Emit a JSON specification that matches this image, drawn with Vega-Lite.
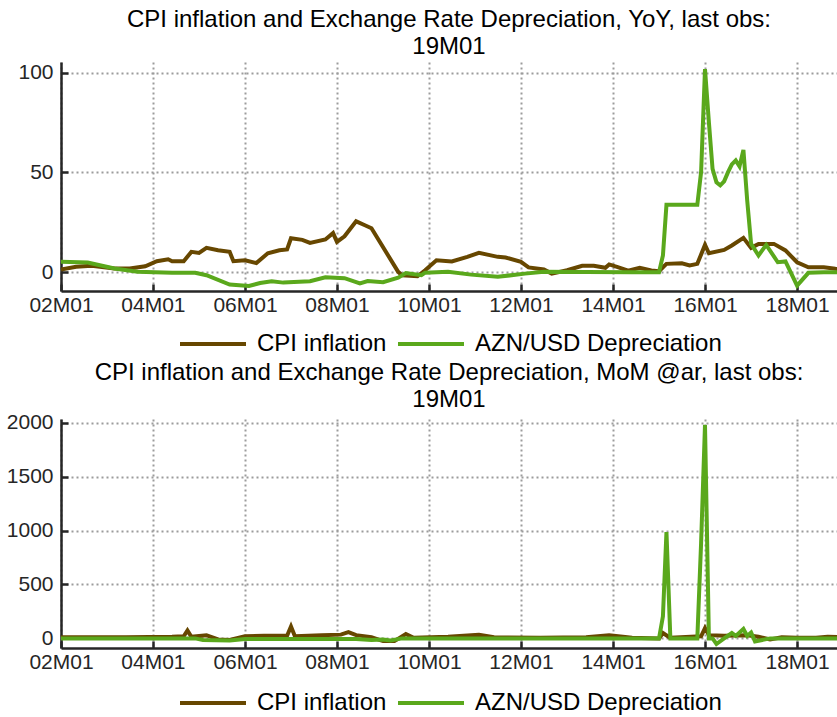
{
  "$schema": "https://vega.github.io/schema/vega-lite/v6.json",
  "background": "white",
  "padding": {"left": 6, "top": 7, "right": 0, "bottom": 0},
  "config": {
    "font": "Liberation Sans",
    "view": {"stroke": null},
    "axis": {
      "labelFont": "Liberation Sans", "labelFontSize": 21, "labelColor": "#262626",
      "domainColor": "#262626", "domainWidth": 2.5,
      "tickColor": "#262626", "tickWidth": 2.5, "tickSize": -7,
      "gridColor": "#9c9c9c", "gridDash": [2, 3], "gridWidth": 2,
      "labelFlush": false, "labelOverlap": false
    },
    "title": {"font": "Liberation Sans", "fontSize": 24, "fontWeight": "normal", "color": "#000000", "lineHeight": 27, "offset": 3, "anchor": "middle"},
    "legend": {"labelFont": "Liberation Sans", "labelFontSize": 24, "labelColor": "#000000", "labelLimit": 0, "symbolType": "stroke", "symbolSize": 4356, "symbolStrokeWidth": 4, "labelOffset": 9, "columnPadding": 9, "clipHeight": 26, "orient": "none", "direction": "horizontal", "title": null},
    "concat": {"spacing": 3}
  },
  "datasets": {
    "yoy": [
      {"d": "2002-01", "s": "CPI inflation", "v": 1.4},
      {"d": "2002-05", "s": "CPI inflation", "v": 2.7},
      {"d": "2002-09", "s": "CPI inflation", "v": 3.2},
      {"d": "2003-03", "s": "CPI inflation", "v": 1.9},
      {"d": "2003-07", "s": "CPI inflation", "v": 1.9},
      {"d": "2003-11", "s": "CPI inflation", "v": 3.0},
      {"d": "2004-02", "s": "CPI inflation", "v": 5.5},
      {"d": "2004-05", "s": "CPI inflation", "v": 6.5},
      {"d": "2004-06", "s": "CPI inflation", "v": 5.5},
      {"d": "2004-09", "s": "CPI inflation", "v": 5.5},
      {"d": "2004-11", "s": "CPI inflation", "v": 10.2},
      {"d": "2005-01", "s": "CPI inflation", "v": 9.7},
      {"d": "2005-03", "s": "CPI inflation", "v": 12.2},
      {"d": "2005-06", "s": "CPI inflation", "v": 11.0},
      {"d": "2005-09", "s": "CPI inflation", "v": 10.2},
      {"d": "2005-10", "s": "CPI inflation", "v": 5.5},
      {"d": "2006-01", "s": "CPI inflation", "v": 6.0},
      {"d": "2006-04", "s": "CPI inflation", "v": 4.6},
      {"d": "2006-07", "s": "CPI inflation", "v": 9.5},
      {"d": "2006-10", "s": "CPI inflation", "v": 11.0},
      {"d": "2006-12", "s": "CPI inflation", "v": 11.4},
      {"d": "2007-01", "s": "CPI inflation", "v": 17.0},
      {"d": "2007-04", "s": "CPI inflation", "v": 16.2},
      {"d": "2007-06", "s": "CPI inflation", "v": 14.7},
      {"d": "2007-10", "s": "CPI inflation", "v": 16.4},
      {"d": "2007-12", "s": "CPI inflation", "v": 19.6},
      {"d": "2008-01", "s": "CPI inflation", "v": 15.2},
      {"d": "2008-03", "s": "CPI inflation", "v": 18.0},
      {"d": "2008-06", "s": "CPI inflation", "v": 25.5},
      {"d": "2008-08", "s": "CPI inflation", "v": 23.8},
      {"d": "2008-10", "s": "CPI inflation", "v": 22.0},
      {"d": "2009-05", "s": "CPI inflation", "v": 0.2},
      {"d": "2009-06", "s": "CPI inflation", "v": -1.5},
      {"d": "2009-10", "s": "CPI inflation", "v": -2.0},
      {"d": "2009-12", "s": "CPI inflation", "v": 1.0},
      {"d": "2010-03", "s": "CPI inflation", "v": 6.0},
      {"d": "2010-07", "s": "CPI inflation", "v": 5.4},
      {"d": "2010-11", "s": "CPI inflation", "v": 7.7},
      {"d": "2011-02", "s": "CPI inflation", "v": 9.7},
      {"d": "2011-07", "s": "CPI inflation", "v": 7.7},
      {"d": "2011-09", "s": "CPI inflation", "v": 7.4},
      {"d": "2012-01", "s": "CPI inflation", "v": 5.2},
      {"d": "2012-03", "s": "CPI inflation", "v": 2.4},
      {"d": "2012-07", "s": "CPI inflation", "v": 1.4},
      {"d": "2012-09", "s": "CPI inflation", "v": -0.7},
      {"d": "2013-01", "s": "CPI inflation", "v": 1.0},
      {"d": "2013-05", "s": "CPI inflation", "v": 3.2},
      {"d": "2013-08", "s": "CPI inflation", "v": 3.2},
      {"d": "2013-11", "s": "CPI inflation", "v": 2.2},
      {"d": "2013-12", "s": "CPI inflation", "v": 3.9},
      {"d": "2014-02", "s": "CPI inflation", "v": 2.7},
      {"d": "2014-05", "s": "CPI inflation", "v": 0.8},
      {"d": "2014-08", "s": "CPI inflation", "v": 2.2},
      {"d": "2014-11", "s": "CPI inflation", "v": 0.9},
      {"d": "2015-01", "s": "CPI inflation", "v": 0.5},
      {"d": "2015-02", "s": "CPI inflation", "v": 2.5},
      {"d": "2015-03", "s": "CPI inflation", "v": 4.2},
      {"d": "2015-07", "s": "CPI inflation", "v": 4.5},
      {"d": "2015-09", "s": "CPI inflation", "v": 3.4},
      {"d": "2015-11", "s": "CPI inflation", "v": 4.2},
      {"d": "2016-01", "s": "CPI inflation", "v": 13.7},
      {"d": "2016-02", "s": "CPI inflation", "v": 9.5},
      {"d": "2016-06", "s": "CPI inflation", "v": 11.2},
      {"d": "2016-08", "s": "CPI inflation", "v": 13.4},
      {"d": "2016-11", "s": "CPI inflation", "v": 17.2},
      {"d": "2017-01", "s": "CPI inflation", "v": 12.2},
      {"d": "2017-03", "s": "CPI inflation", "v": 14.2},
      {"d": "2017-07", "s": "CPI inflation", "v": 14.2},
      {"d": "2017-10", "s": "CPI inflation", "v": 10.9},
      {"d": "2018-01", "s": "CPI inflation", "v": 5.0},
      {"d": "2018-04", "s": "CPI inflation", "v": 2.5},
      {"d": "2018-08", "s": "CPI inflation", "v": 2.5},
      {"d": "2018-11", "s": "CPI inflation", "v": 1.7},
      {"d": "2019-01", "s": "CPI inflation", "v": 1.6},
      {"d": "2002-01", "s": "AZN/USD Depreciation", "v": 5.2},
      {"d": "2002-08", "s": "AZN/USD Depreciation", "v": 4.9},
      {"d": "2003-03", "s": "AZN/USD Depreciation", "v": 1.9},
      {"d": "2003-09", "s": "AZN/USD Depreciation", "v": 0.2},
      {"d": "2004-06", "s": "AZN/USD Depreciation", "v": -0.2},
      {"d": "2004-12", "s": "AZN/USD Depreciation", "v": -0.3},
      {"d": "2005-03", "s": "AZN/USD Depreciation", "v": -1.5},
      {"d": "2005-09", "s": "AZN/USD Depreciation", "v": -6.2},
      {"d": "2006-02", "s": "AZN/USD Depreciation", "v": -6.9},
      {"d": "2006-05", "s": "AZN/USD Depreciation", "v": -5.4},
      {"d": "2006-08", "s": "AZN/USD Depreciation", "v": -4.5},
      {"d": "2006-11", "s": "AZN/USD Depreciation", "v": -5.2},
      {"d": "2007-06", "s": "AZN/USD Depreciation", "v": -4.5},
      {"d": "2007-10", "s": "AZN/USD Depreciation", "v": -2.5},
      {"d": "2008-03", "s": "AZN/USD Depreciation", "v": -3.0},
      {"d": "2008-07", "s": "AZN/USD Depreciation", "v": -5.6},
      {"d": "2008-09", "s": "AZN/USD Depreciation", "v": -4.4},
      {"d": "2009-01", "s": "AZN/USD Depreciation", "v": -5.0},
      {"d": "2009-05", "s": "AZN/USD Depreciation", "v": -2.7},
      {"d": "2009-07", "s": "AZN/USD Depreciation", "v": -0.4},
      {"d": "2009-11", "s": "AZN/USD Depreciation", "v": -1.5},
      {"d": "2009-12", "s": "AZN/USD Depreciation", "v": -0.2},
      {"d": "2010-06", "s": "AZN/USD Depreciation", "v": 0.2},
      {"d": "2010-12", "s": "AZN/USD Depreciation", "v": -1.2},
      {"d": "2011-07", "s": "AZN/USD Depreciation", "v": -2.3},
      {"d": "2012-02", "s": "AZN/USD Depreciation", "v": -0.7},
      {"d": "2012-07", "s": "AZN/USD Depreciation", "v": 0.2},
      {"d": "2013-06", "s": "AZN/USD Depreciation", "v": 0.1},
      {"d": "2014-06", "s": "AZN/USD Depreciation", "v": 0.0},
      {"d": "2015-01", "s": "AZN/USD Depreciation", "v": 0.0},
      {"d": "2015-02", "s": "AZN/USD Depreciation", "v": 8.4},
      {"d": "2015-03", "s": "AZN/USD Depreciation", "v": 33.8},
      {"d": "2015-11", "s": "AZN/USD Depreciation", "v": 33.8},
      {"d": "2015-12", "s": "AZN/USD Depreciation", "v": 50.2},
      {"d": "2016-01", "s": "AZN/USD Depreciation", "v": 101.7},
      {"d": "2016-02", "s": "AZN/USD Depreciation", "v": 75},
      {"d": "2016-03", "s": "AZN/USD Depreciation", "v": 51.8},
      {"d": "2016-04", "s": "AZN/USD Depreciation", "v": 45},
      {"d": "2016-05", "s": "AZN/USD Depreciation", "v": 43.5},
      {"d": "2016-06", "s": "AZN/USD Depreciation", "v": 45.5},
      {"d": "2016-07", "s": "AZN/USD Depreciation", "v": 50},
      {"d": "2016-08", "s": "AZN/USD Depreciation", "v": 54},
      {"d": "2016-09", "s": "AZN/USD Depreciation", "v": 56},
      {"d": "2016-10", "s": "AZN/USD Depreciation", "v": 53},
      {"d": "2016-11", "s": "AZN/USD Depreciation", "v": 61.3},
      {"d": "2016-12", "s": "AZN/USD Depreciation", "v": 36},
      {"d": "2017-01", "s": "AZN/USD Depreciation", "v": 14.2},
      {"d": "2017-03", "s": "AZN/USD Depreciation", "v": 8.4},
      {"d": "2017-05", "s": "AZN/USD Depreciation", "v": 13.7},
      {"d": "2017-08", "s": "AZN/USD Depreciation", "v": 5.0},
      {"d": "2017-10", "s": "AZN/USD Depreciation", "v": 5.4},
      {"d": "2018-01", "s": "AZN/USD Depreciation", "v": -6.7},
      {"d": "2018-04", "s": "AZN/USD Depreciation", "v": -0.3},
      {"d": "2018-08", "s": "AZN/USD Depreciation", "v": 0.0},
      {"d": "2019-01", "s": "AZN/USD Depreciation", "v": 0.0}
    ],
    "mom": [
      {"d": "2002-01", "s": "CPI inflation", "v": 10},
      {"d": "2003-06", "s": "CPI inflation", "v": 10},
      {"d": "2004-06", "s": "CPI inflation", "v": 15},
      {"d": "2004-09", "s": "CPI inflation", "v": 20},
      {"d": "2004-10", "s": "CPI inflation", "v": 74},
      {"d": "2004-11", "s": "CPI inflation", "v": 15},
      {"d": "2005-03", "s": "CPI inflation", "v": 30},
      {"d": "2005-06", "s": "CPI inflation", "v": -10},
      {"d": "2005-09", "s": "CPI inflation", "v": -15},
      {"d": "2006-01", "s": "CPI inflation", "v": 20},
      {"d": "2006-06", "s": "CPI inflation", "v": 25},
      {"d": "2006-12", "s": "CPI inflation", "v": 25},
      {"d": "2007-01", "s": "CPI inflation", "v": 111},
      {"d": "2007-02", "s": "CPI inflation", "v": 20},
      {"d": "2007-09", "s": "CPI inflation", "v": 30},
      {"d": "2008-02", "s": "CPI inflation", "v": 35},
      {"d": "2008-04", "s": "CPI inflation", "v": 59},
      {"d": "2008-06", "s": "CPI inflation", "v": 30},
      {"d": "2008-10", "s": "CPI inflation", "v": 10},
      {"d": "2009-01", "s": "CPI inflation", "v": -25},
      {"d": "2009-04", "s": "CPI inflation", "v": -25},
      {"d": "2009-07", "s": "CPI inflation", "v": 41},
      {"d": "2009-09", "s": "CPI inflation", "v": 5},
      {"d": "2010-06", "s": "CPI inflation", "v": 15},
      {"d": "2011-02", "s": "CPI inflation", "v": 34},
      {"d": "2011-06", "s": "CPI inflation", "v": 10},
      {"d": "2012-06", "s": "CPI inflation", "v": 5},
      {"d": "2013-06", "s": "CPI inflation", "v": 10},
      {"d": "2013-12", "s": "CPI inflation", "v": 28},
      {"d": "2014-06", "s": "CPI inflation", "v": 5},
      {"d": "2015-01", "s": "CPI inflation", "v": 0},
      {"d": "2015-02", "s": "CPI inflation", "v": 50},
      {"d": "2015-04", "s": "CPI inflation", "v": 5},
      {"d": "2015-12", "s": "CPI inflation", "v": 20},
      {"d": "2016-01", "s": "CPI inflation", "v": 96},
      {"d": "2016-02", "s": "CPI inflation", "v": 30},
      {"d": "2016-06", "s": "CPI inflation", "v": 25},
      {"d": "2016-12", "s": "CPI inflation", "v": 30},
      {"d": "2017-03", "s": "CPI inflation", "v": 15},
      {"d": "2017-06", "s": "CPI inflation", "v": -10},
      {"d": "2017-09", "s": "CPI inflation", "v": 10},
      {"d": "2018-01", "s": "CPI inflation", "v": 5},
      {"d": "2018-06", "s": "CPI inflation", "v": 5},
      {"d": "2018-09", "s": "CPI inflation", "v": 15},
      {"d": "2019-01", "s": "CPI inflation", "v": 10},
      {"d": "2002-01", "s": "AZN/USD Depreciation", "v": 0},
      {"d": "2004-12", "s": "AZN/USD Depreciation", "v": 0},
      {"d": "2005-02", "s": "AZN/USD Depreciation", "v": -15},
      {"d": "2005-09", "s": "AZN/USD Depreciation", "v": -20},
      {"d": "2006-01", "s": "AZN/USD Depreciation", "v": -5},
      {"d": "2007-06", "s": "AZN/USD Depreciation", "v": -5},
      {"d": "2008-06", "s": "AZN/USD Depreciation", "v": -5},
      {"d": "2008-10", "s": "AZN/USD Depreciation", "v": -15},
      {"d": "2009-01", "s": "AZN/USD Depreciation", "v": -10},
      {"d": "2009-03", "s": "AZN/USD Depreciation", "v": -20},
      {"d": "2009-06", "s": "AZN/USD Depreciation", "v": 0},
      {"d": "2015-01", "s": "AZN/USD Depreciation", "v": 0},
      {"d": "2015-02", "s": "AZN/USD Depreciation", "v": 205},
      {"d": "2015-03", "s": "AZN/USD Depreciation", "v": 985},
      {"d": "2015-04", "s": "AZN/USD Depreciation", "v": 0},
      {"d": "2015-11", "s": "AZN/USD Depreciation", "v": 0},
      {"d": "2015-12", "s": "AZN/USD Depreciation", "v": 883},
      {"d": "2016-01", "s": "AZN/USD Depreciation", "v": 1979},
      {"d": "2016-02", "s": "AZN/USD Depreciation", "v": 0},
      {"d": "2016-03", "s": "AZN/USD Depreciation", "v": 0},
      {"d": "2016-04", "s": "AZN/USD Depreciation", "v": -52},
      {"d": "2016-06", "s": "AZN/USD Depreciation", "v": 0},
      {"d": "2016-08", "s": "AZN/USD Depreciation", "v": 50},
      {"d": "2016-09", "s": "AZN/USD Depreciation", "v": 23},
      {"d": "2016-11", "s": "AZN/USD Depreciation", "v": 87},
      {"d": "2016-12", "s": "AZN/USD Depreciation", "v": 23},
      {"d": "2017-01", "s": "AZN/USD Depreciation", "v": 55},
      {"d": "2017-02", "s": "AZN/USD Depreciation", "v": -28},
      {"d": "2017-06", "s": "AZN/USD Depreciation", "v": 0},
      {"d": "2019-01", "s": "AZN/USD Depreciation", "v": 0}
    ]
  },
  "vconcat": [
    {
      "title": {"text": ["CPI inflation and Exchange Rate Depreciation, YoY, last obs:", "19M01"]},
      "width": 776,
      "height": 229,
      "data": {"name": "yoy"},
      "mark": {"type": "line", "strokeWidth": 4, "clip": true},
      "encoding": {
        "x": {"field": "d", "type": "temporal",
              "scale": {"type": "utc", "domain": [{"year": 2002, "month": 1, "date": 1, "utc": true}, {"year": 2018, "month": 11, "date": 14, "utc": true}], "nice": false},
              "axis": {"title": null, "format": "%yM%m", "tickCount": {"interval": "year", "step": 2}, "labelPadding": 10}},
        "y": {"field": "v", "type": "quantitative",
              "scale": {"domain": [-9.4, 105.3], "nice": false, "zero": false},
              "axis": {"title": null, "values": [0, 50, 100], "format": "d", "labelPadding": 15}},
        "color": {"field": "s", "type": "nominal",
                  "scale": {"domain": ["CPI inflation", "AZN/USD Depreciation"], "range": ["#674700", "#5aa81c"]},
                  "legend": {"legendX": 117, "legendY": 269}}
      }
    },
    {
      "title": {"text": ["CPI inflation and Exchange Rate Depreciation, MoM @ar, last obs:", "19M01"], "offset": 0},
      "width": 776,
      "height": 229,
      "data": {"name": "mom"},
      "mark": {"type": "line", "strokeWidth": 4, "clip": true},
      "encoding": {
        "x": {"field": "d", "type": "temporal",
              "scale": {"type": "utc", "domain": [{"year": 2002, "month": 1, "date": 1, "utc": true}, {"year": 2018, "month": 11, "date": 14, "utc": true}], "nice": false},
              "axis": {"title": null, "format": "%yM%m", "tickCount": {"interval": "year", "step": 2}, "labelPadding": 10}},
        "y": {"field": "v", "type": "quantitative",
              "scale": {"domain": [-89, 2034], "nice": false, "zero": false},
              "axis": {"title": null, "values": [0, 500, 1000, 1500, 2000], "format": "d", "labelPadding": 15}},
        "color": {"field": "s", "type": "nominal",
                  "scale": {"domain": ["CPI inflation", "AZN/USD Depreciation"], "range": ["#674700", "#5aa81c"]},
                  "legend": {"legendX": 117, "legendY": 271}}
      }
    }
  ],
  "resolve": {"scale": {"color": "independent"}, "legend": {"color": "independent"}}
}
